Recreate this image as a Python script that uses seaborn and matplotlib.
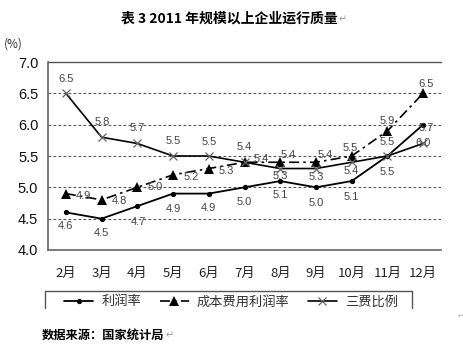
import matplotlib
matplotlib.use("Agg")
import matplotlib.pyplot as plt
from matplotlib.lines import Line2D
import seaborn as sns
import pandas as pd

# 2011 monthly indicators for industrial enterprises above designated size (%)
months = ["2月", "3月", "4月", "5月", "6月", "7月", "8月", "9月", "10月", "11月", "12月"]
profit_rate = [4.6, 4.5, 4.7, 4.9, 4.9, 5.0, 5.1, 5.0, 5.1, 5.5, 6.0]
cost_profit_rate = [4.9, 4.8, 5.0, 5.2, 5.3, 5.4, 5.4, 5.4, 5.5, 5.9, 6.5]
expense_ratio = [6.5, 5.8, 5.7, 5.5, 5.5, 5.4, 5.3, 5.3, 5.4, 5.5, 5.7]
series_names = ["利润率", "成本费用利润率", "三费比例"]
y_ticks = [4.0, 4.5, 5.0, 5.5, 6.0, 6.5, 7.0]

# label offsets (pixels) for each value label, one per month
profit_off = [(0, -14), (0, -14), (1, -16), (0, -15), (0, -14), (0, -15),
              (0, -14), (0, -16), (0, -16), (0, -16), (0, -18)]
cost_off = [(18, -2), (18, -1), (18, 0), (18, -2), (18, -2), (17, 3),
            (8, 7), (9, 7), (-1, 8), (0, 10), (3, 9)]
expense_off = [(0, 14), (1, 15), (0, 15), (0, 15), (0, 14), (0, 15),
               (0, -7), (0, -8), (0, -9), (0, 14), (3, 15)]

sns.set_theme(style="white")
plt.rcParams["font.family"] = ["Noto Sans CJK SC", "DejaVu Sans"]

df = pd.DataFrame({"month": months, series_names[0]: profit_rate,
                   series_names[1]: cost_profit_rate, series_names[2]: expense_ratio})

W, H = 464, 348
fig = plt.figure(figsize=(W / 100, H / 100), dpi=100)
ax = fig.add_axes([48 / W, 1 - 250 / H, (441 - 48) / W, (250 - 62) / H])

sns.lineplot(data=df, x="month", y=series_names[0], ax=ax, sort=False, color="black",
             lw=1.3, marker="o", markersize=3.8, markeredgewidth=0, label=series_names[0])
sns.lineplot(data=df, x="month", y=series_names[1], ax=ax, sort=False, color="black",
             lw=1.2, linestyle=(0, (6, 2.5, 1.5, 2.5)), marker="^", markersize=7,
             markeredgewidth=0, label=series_names[1])
sns.lineplot(data=df, x="month", y=series_names[2], ax=ax, sort=False, color="black",
             lw=1.2, marker="x", markersize=5.8, markeredgecolor="#666666",
             markeredgewidth=0.9, label=series_names[2])

lab_kw = dict(textcoords="offset pixels", ha="center", va="center",
              fontsize=8, color="#444444", family=["Liberation Sans", "DejaVu Sans"])
for i in range(len(months)):
    ax.annotate(f"{profit_rate[i]:.1f}", (i, profit_rate[i]), xytext=profit_off[i], **lab_kw)
    ax.annotate(f"{cost_profit_rate[i]:.1f}", (i, cost_profit_rate[i]), xytext=cost_off[i], **lab_kw)
    ax.annotate(f"{expense_ratio[i]:.1f}", (i, expense_ratio[i]), xytext=expense_off[i], **lab_kw)

ax.set_xlim(-0.5, len(months) - 0.5)
ax.set_ylim(y_ticks[0], y_ticks[-1])
ax.set_yticks(y_ticks)
ax.set_yticklabels([f"{v:.1f}" for v in y_ticks], family=["Liberation Sans", "DejaVu Sans"],
                   fontsize=10.5, color="#111111")
ax.set_xlabel("")
ax.set_ylabel("")
ax.tick_params(axis="y", length=0, pad=7)
ax.tick_params(axis="x", which="major", length=0, pad=12, labelsize=9.5, labelcolor="#222222")
ax.set_xticks([i + 0.5 for i in range(len(months) - 1)], minor=True)
ax.tick_params(axis="x", which="minor", direction="in", length=3, width=0.9, color="#555555")

for y in y_ticks[1:-1]:
    ax.axhline(y, color="#555555", lw=0.8, linestyle=(0, (2.5, 2)), zorder=0)

ax.spines["right"].set_visible(False)
ax.spines["top"].set_color("#555555")
ax.spines["top"].set_linewidth(1.0)
for s in ("left", "bottom"):
    ax.spines[s].set_color("#666666")
    ax.spines[s].set_linewidth(1.2)

ax.get_legend().remove()
handles, labels = ax.get_legend_handles_labels()
fig.legend(handles, labels, loc="center", bbox_to_anchor=(231 / W, 1 - 302 / H), ncol=3,
           frameon=False, fontsize=9.5, handlelength=2.2, handletextpad=0.6,
           columnspacing=1.4, labelcolor="#333333")

# legend box, open at the bottom
box_kw = dict(transform=fig.transFigure, color="#555555", lw=1.0)
fig.add_artist(Line2D([45 / W, 412 / W], [1 - 291 / H, 1 - 291 / H], **box_kw))
fig.add_artist(Line2D([45 / W, 45 / W], [1 - 291 / H, 1 - 308 / H], **box_kw))
fig.add_artist(Line2D([412 / W, 412 / W], [1 - 291 / H, 1 - 308 / H], **box_kw))

title = fig.text(229 / W, 1 - 19 / H, "表 3 2011 年规模以上企业运行质量", ha="center", va="center",
                 fontsize=10, fontweight="bold", color="black")
fig.text(4 / W, 1 - 44 / H, "(%)", ha="left", va="center", fontsize=8.5, color="#333333")
source = fig.text(42 / W, 1 - 335 / H, "数据来源：国家统计局", ha="left", va="center",
                  fontsize=8.8, fontweight="bold", color="black")

fig.canvas.draw()
inv = fig.transFigure.inverted()
for t in (title, source):
    bb = t.get_window_extent()
    x0, yc = inv.transform((bb.x1 + 1, (bb.y0 + bb.y1) / 2))
    fig.text(x0, yc, "↵", ha="left", va="center", fontsize=7, color="#999999",
             family=["DejaVu Sans"])
fig.text(461 / W, 1 - 316 / H, "↵", ha="center", va="center", fontsize=5, color="#aaaaaa",
         family=["DejaVu Sans"])

fig.savefig("out.png", dpi=100)
